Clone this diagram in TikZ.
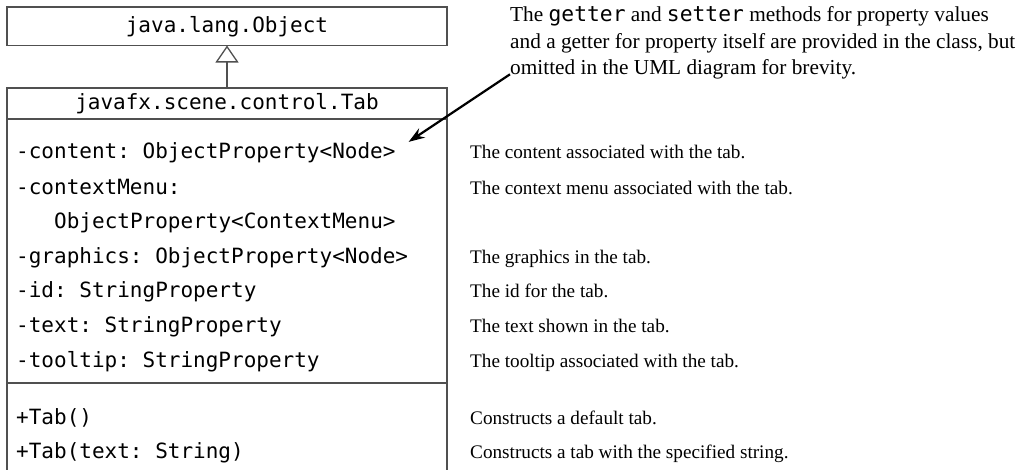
\documentclass[tikz,border=0pt]{standalone}
\usepackage{fontspec}
\setmainfont{Liberation Serif}
\setmonofont{DejaVu Sans Mono}
\usetikzlibrary{positioning, arrows.meta}
\definecolor{umlgray}{HTML}{505050}

\begin{document}
\begin{tikzpicture}[
  x=1pt, y=-1pt,
  umlclass/.style={rectangle, draw=umlgray, line width=1.3pt, minimum width=440pt,
                   inner sep=0pt, outer sep=0pt, font=\fontsize{21}{25}\ttfamily},
  member/.style={anchor=base west, inner sep=0pt, font=\fontsize{21}{25}\ttfamily},
  memberdesc/.style={anchor=base west, inner sep=0pt, font=\fontsize{19.2}{23}\selectfont},
  umlline/.style={draw=umlgray, line width=1.3pt},
  inherit/.style={umlline, -{Triangle[open, length=17pt, width=23pt, fill=white]}},
  notearrow/.style={-{Stealth[length=16pt, width=11pt]}, line width=2.2pt}
]
\useasboundingbox (0,0) rectangle (1025,469);

% -------- classes --------
\node[umlclass, minimum height=38.5pt] (objcls) at (227,26.25) {java.lang.Object};
\node[umlclass, minimum height=31pt] (tabcls) at (227,103.5) {javafx.scene.control.Tab};

% compartments (box runs off the bottom)
\draw[umlline] (tabcls.south west) -- ++(0,365);
\draw[umlline] (tabcls.south east) -- ++(0,365);
\draw[umlline] (7,383) -- (447,383);

% inheritance
\draw[inherit] (tabcls.north) -- (objcls.south);

% -------- properties --------
\node[member] (attr1) at (16,158) {-content: ObjectProperty<Node>};
\node[member] (attr2) at (16,194) {-contextMenu:};
\node[member] (attr2b) at (54,228) {ObjectProperty<ContextMenu>};
\node[member] (attr3) at (16,263) {-graphics: ObjectProperty<Node>};
\node[member] (attr4) at (16,297) {-id: StringProperty};
\node[member] (attr5) at (16,332) {-text: StringProperty};
\node[member] (attr6) at (16,367) {-tooltip: StringProperty};

% -------- constructors --------
\node[member] (meth1) at (16,424) {+Tab()};
\node[member] (meth2) at (16,458) {+Tab(text: String)};

% -------- descriptions --------
\node[memberdesc] (desc1) at (470,158) {The content associated with the tab.};
\node[memberdesc] (desc2) at (470,194) {The context menu associated with the tab.};
\node[memberdesc] (desc3) at (470,263) {The graphics in the tab.};
\node[memberdesc] (desc4) at (470,297) {The id for the tab.};
\node[memberdesc] (desc5) at (470,332) {The text shown in the tab.};
\node[memberdesc] (desc6) at (470,367) {The tooltip associated with the tab.};
\node[memberdesc] (desc7) at (470,424) {Constructs a default tab.};
\node[memberdesc] (desc8) at (470,458) {Constructs a tab with the specified string.};

% -------- note --------
\node[anchor=north west, inner sep=0pt, align=left,
      font=\fontsize{21.3}{26.5}\selectfont] (note) at (510,6.3)
  {The \texttt{getter} and \texttt{setter} methods for property values\\
   and a getter for property itself are provided in the class, but\\
   omitted in the UML diagram for brevity.};
\draw[notearrow] ([yshift=5pt]note.south west) -- ([xshift=13pt]attr1.north east);

\end{tikzpicture}
\end{document}
